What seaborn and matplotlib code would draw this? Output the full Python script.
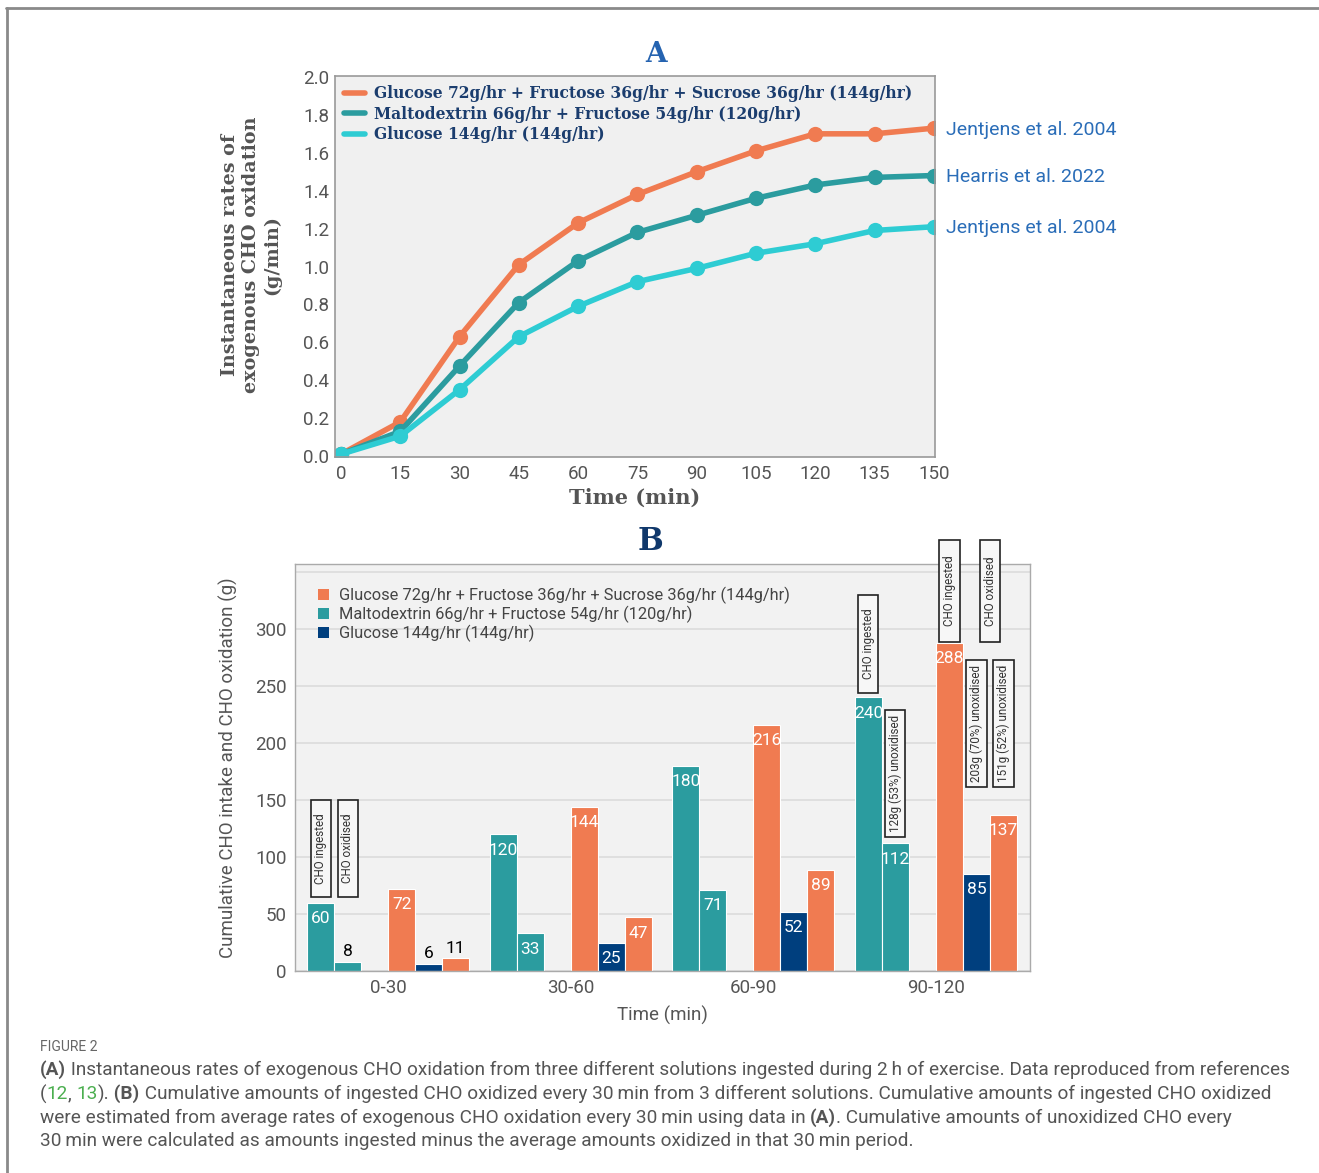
import numpy as np
import pandas as pd
import matplotlib
matplotlib.use('Agg')
import matplotlib.pyplot as plt
import seaborn as sns
from matplotlib.lines import Line2D
from matplotlib.patches import Patch, Rectangle

sns.set_theme(style="white")
plt.rcParams['font.family'] = ['Roboto', 'DejaVu Sans']

# ---- panel A data ----
times = [0, 15, 30, 45, 60, 75, 90, 105, 120, 135, 150]
rate_gfs = [0.01, 0.18, 0.63, 1.01, 1.23, 1.38, 1.50, 1.61, 1.70, 1.70, 1.73]
rate_malto = [0.01, 0.13, 0.475, 0.81, 1.03, 1.18, 1.27, 1.36, 1.43, 1.47, 1.48]
rate_glucose = [0.01, 0.105, 0.35, 0.63, 0.79, 0.92, 0.99, 1.07, 1.12, 1.19, 1.21]
names_a = ['Glucose 72g/hr + Fructose 36g/hr + Sucrose 36g/hr (144g/hr)',
           'Maltodextrin 66g/hr + Fructose 54g/hr (120g/hr)',
           'Glucose 144g/hr (144g/hr)']
refs_a = ['Jentjens et al. 2004', 'Hearris et al. 2022', 'Jentjens et al. 2004']

# ---- panel B data ----
periods = ['0-30', '30-60', '60-90', '90-120']
malto_ingested = [60, 120, 180, 240]
malto_oxidised = [8, 33, 71, 112]
gfs_ingested = [72, 144, 216, 288]
glucose_oxidised = [6, 25, 52, 85]
gfs_oxidised = [11, 47, 89, 137]

ORANGE = '#F07B51'
TEAL = '#2B9C9F'
CYAN = '#2ECCD3'
NAVY = '#003F7E'
GRAY = '#555555'

fig = plt.figure(figsize=(13.19, 11.73), dpi=100)

# ================= Panel A =================
axA = fig.add_axes([0.254, 0.6104, 0.4549, 0.3248])
dfA = pd.DataFrame({
    'time': times * 3,
    'rate': rate_gfs + rate_malto + rate_glucose,
    'series': [names_a[0]] * len(times) + [names_a[1]] * len(times) + [names_a[2]] * len(times),
})
pal_a = dict(zip(names_a, [ORANGE, TEAL, CYAN]))
sns.lineplot(data=dfA, x='time', y='rate', hue='series', hue_order=names_a,
             palette=pal_a, marker='o', markersize=11, markeredgewidth=0,
             linewidth=4, ax=axA, legend=False)
axA.set_facecolor('#f0f0f0')
axA.set_xlim(-1.5, 150.3)
axA.set_ylim(-0.005, 2.005)
axA.set_xticks(times)
axA.set_yticks(np.arange(0, 2.01, 0.2))
axA.set_yticklabels([f'{v:.1f}' for v in np.arange(0, 2.01, 0.2)])
axA.tick_params(labelsize=13.5, colors=GRAY, length=0, pad=4)
axA.tick_params(axis='x', pad=5.5)
for s in axA.spines.values():
    s.set_color('#999999')
    s.set_linewidth(1.2)
axA.set_xlabel('Time (min)', family='DejaVu Serif', fontweight='bold',
               fontsize=15, color=GRAY, labelpad=4)
axA.set_ylabel('Instantaneous rates of\nexogenous CHO oxidation\n(g/min)',
               family='DejaVu Serif', fontweight='bold', fontsize=13.8,
               color=GRAY, linespacing=1.2)
axA.yaxis.set_label_coords(-0.09, 0.53)
handles_a = [Line2D([], [], color=c, lw=4) for c in [ORANGE, TEAL, CYAN]]
legA = axA.legend(handles_a, names_a, loc='upper left', frameon=False,
                  handlelength=1.3, handletextpad=0.6, labelspacing=0.22,
                  borderaxespad=0.2, prop={'family': 'DejaVu Serif',
                                            'weight': 'bold', 'size': 11.2})
for t in legA.get_texts():
    t.set_color('#1B3D6E')
for vals, lab in zip([rate_gfs, rate_malto, rate_glucose], refs_a):
    axA.annotate(lab, xy=(times[-1], vals[-1]), xytext=(9, -1),
                 textcoords='offset points', va='center', ha='left',
                 fontsize=14, color='#2A6DB8', annotation_clip=False)
fig.text(656 / 1319, 1 - 55 / 1173, 'A', family='DejaVu Serif', fontweight='bold',
         fontsize=20, color='#2563B0', ha='center', va='center')

# ================= Panel B =================
axB = fig.add_axes([0.2237, 0.1722, 0.5572, 0.347])
levels = ['malto_ing', 'malto_ox', 'gap', 'gfs_ing', 'glu_ox', 'gfs_ox']
pal_b = {'malto_ing': TEAL, 'malto_ox': TEAL, 'gap': '#ffffff',
         'gfs_ing': ORANGE, 'glu_ox': NAVY, 'gfs_ox': ORANGE}
dfB = pd.DataFrame({
    'period': periods * 5,
    'amount': malto_ingested + malto_oxidised + gfs_ingested + glucose_oxidised + gfs_oxidised,
    'kind': (['malto_ing'] * 4 + ['malto_ox'] * 4 + ['gfs_ing'] * 4
             + ['glu_ox'] * 4 + ['gfs_ox'] * 4),
})
sns.barplot(data=dfB, x='period', y='amount', hue='kind', hue_order=levels,
            order=periods, palette=pal_b, width=0.888, saturation=1,
            edgecolor='white', linewidth=0.8, ax=axB, legend=False)
axB.set_facecolor('#f2f2f2')
axB.set_xlim(-0.51, 3.515)
axB.set_ylim(0, 357)
axB.set_yticks(range(0, 351, 50))
axB.set_yticklabels([str(v) for v in range(0, 301, 50)] + [''])
axB.yaxis.grid(True, color='#dcdcdc', linewidth=1.2)
axB.set_axisbelow(True)
axB.tick_params(labelsize=13.5, colors=GRAY, length=0, pad=6)
for s in axB.spines.values():
    s.set_color('#aaaaaa')
    s.set_linewidth(1.0)
axB.set_xlabel('Time (min)', fontsize=13.5, color=GRAY, labelpad=6)
axB.set_ylabel('Cumulative CHO intake and CHO oxidation (g)', fontsize=13.5,
               color=GRAY, labelpad=12)

# value labels on the bars
for p in list(axB.patches):
    h = p.get_height()
    if not np.isfinite(h) or h <= 0:
        continue
    xc = p.get_x() + p.get_width() / 2
    if h >= 20:
        axB.annotate(f'{h:.0f}', xy=(xc, h), xytext=(0, -6), textcoords='offset points',
                     ha='center', va='top', fontsize=12.5, color='white')
    else:
        axB.annotate(f'{h:.0f}', xy=(xc, h), xytext=(0, 2), textcoords='offset points',
                     ha='center', va='bottom', fontsize=12.5, color='black')

# boxed vertical notes: (group, slot, y bottom, y top, text)
slot_w = 0.148
notes = [
    (0, 0, 65, 150, 'CHO ingested'),
    (0, 1, 65, 150, 'CHO oxidised'),
    (3, 0, 244, 330, 'CHO ingested'),
    (3, 1, 117.5, 229, '128g (53%) unoxidised'),
    (3, 3, 288.6, 378, 'CHO ingested'),
    (3, 4.5, 288.6, 378, 'CHO oxidised'),
    (3, 4, 161.4, 272.8, '203g (70%) unoxidised'),
    (3, 5, 161.4, 272.8, '151g (52%) unoxidised'),
]
bw = 0.11
for g, slot, y0, y1, txt in notes:
    xc = g + (slot - 2.5) * slot_w
    axB.add_patch(Rectangle((xc - bw / 2, y0), bw, y1 - y0, facecolor='#f7f7f7',
                            edgecolor='#222222', linewidth=1.2, clip_on=False, zorder=5))
    axB.text(xc, (y0 + y1) / 2, txt, rotation=90, ha='center', va='center',
             fontsize=8.4, color='#333333', zorder=6, clip_on=False)

handles_b = [Patch(facecolor=c, edgecolor='none') for c in [ORANGE, TEAL, NAVY]]
legB = axB.legend(handles_b, names_a, loc='upper left', frameon=False,
                  handlelength=0.7, handleheight=0.7, handletextpad=0.6,
                  labelspacing=0.1, borderaxespad=1.1, borderpad=0.3,
                  fontsize=11.8)
for t in legB.get_texts():
    t.set_color('#444444')
fig.text(650 / 1319, 1 - 541 / 1173, 'B', family='DejaVu Serif', fontweight='bold',
         fontsize=22, color='#10386B', ha='center', va='center')

# ================= frame and caption =================
fig.add_artist(Line2D([6 / 1319, 1], [1 - 8 / 1173, 1 - 8 / 1173], color='#8a8a8a', lw=2))
fig.add_artist(Line2D([7 / 1319, 7 / 1319], [0, 1 - 8 / 1173], color='#8a8a8a', lw=2))

fig.text(40 / 1319, 1 - 1047 / 1173, 'FIGURE 2', fontsize=10, color='#666666',
         va='center', ha='left')

CAP = '#555555'
GREEN = '#4CAF50'
caption = [
    [('(A)', 'bold', CAP), (' Instantaneous rates of exogenous CHO oxidation from three different solutions ingested during 2\u2009h of exercise. Data reproduced from references', 'normal', CAP)],
    [('(', 'normal', CAP), ('12', 'normal', GREEN), (', ', 'normal', CAP), ('13', 'normal', GREEN),
     (').', 'normal', CAP), (' (B)', 'bold', CAP),
     (' Cumulative amounts of ingested CHO oxidized every 30\u2009min from 3 different solutions. Cumulative amounts of ingested CHO oxidized', 'normal', CAP)],
    [('were estimated from average rates of exogenous CHO oxidation every 30\u2009min using data in ', 'normal', CAP),
     ('(A)', 'bold', CAP), ('. Cumulative amounts of unoxidized CHO every', 'normal', CAP)],
    [('30\u2009min were calculated as amounts ingested minus the average amounts oxidized in that 30\u2009min period.', 'normal', CAP)],
]
renderer = fig.canvas.get_renderer()
line_y = [1070, 1094, 1118, 1141]
for pieces, yp in zip(caption, line_y):
    xpix = 40
    for txt, wt, col in pieces:
        t = fig.text(xpix / 1319, 1 - yp / 1173, txt, fontsize=13.7, fontweight=wt,
                     color=col, va='center', ha='left',
                     family=['Roboto', 'DejaVu Sans'])
        bb = t.get_window_extent(renderer=renderer)
        xpix += bb.width

fig.savefig('out.png', dpi=100)
